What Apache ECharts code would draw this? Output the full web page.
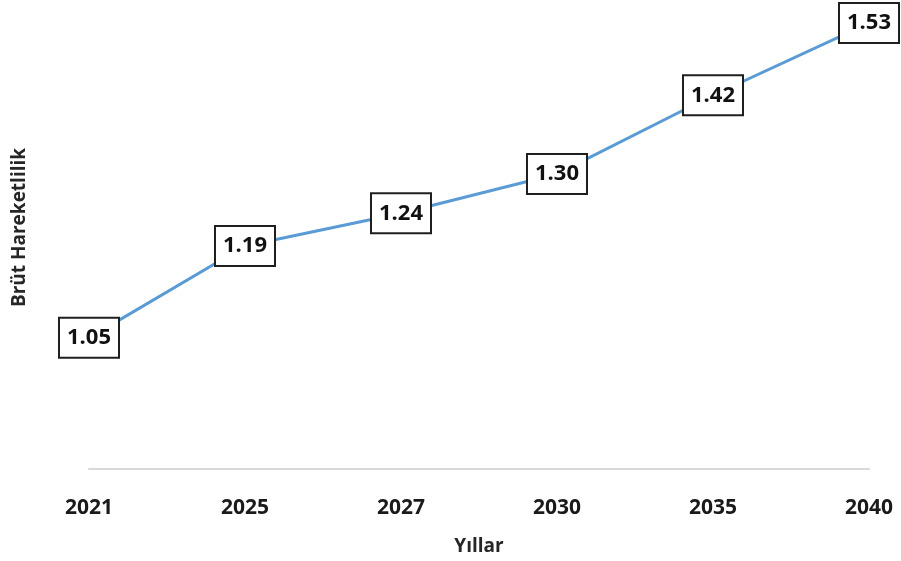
<!DOCTYPE html>
<html>
<head>
<meta charset="utf-8">
<script src="https://cdn.jsdelivr.net/npm/echarts@6/dist/echarts.min.js"></script>
<style>
 html, body { margin: 0; padding: 0; background: #fff; }
 #chartMain { width: 901px; height: 561px; }
</style>
</head>
<body>
<div id="chartMain"></div>
<script>
var years = ['2021', '2025', '2027', '2030', '2035', '2040'];
var mobility = [1.05, 1.19, 1.24, 1.30, 1.42, 1.53];

var myChart = echarts.init(document.getElementById('chartMain'));
var font = '"Open Sans", sans-serif';

var option = {
	animation: false,
	grid: { left: 89, right: 32, top: 10, bottom: 86 },
	xAxis: {
		type: 'category',
		data: years,
		boundaryGap: false,
		name: 'Yıllar',
		nameLocation: 'middle',
		nameGap: 68,
		nameTextStyle: { fontFamily: font, fontWeight: 'bold', fontSize: 19, color: '#262626' },
		axisLine: { lineStyle: { color: '#d9d9d9', width: 2 } },
		axisTick: { show: false },
		axisLabel: { margin: 29, fontFamily: font, fontWeight: 'bold', fontSize: 21, color: '#1a1a1a' }
	},
	yAxis: {
		type: 'value',
		min: 0.85,
		max: 1.55,
		name: 'Brüt Hareketlilik',
		nameLocation: 'middle',
		nameGap: 60,
		nameRotate: 90,
		nameTextStyle: { fontFamily: font, fontWeight: 'bold', fontSize: 19, color: '#262626', padding: [0, 0, 0, 24] },
		axisLine: { show: false },
		axisTick: { show: false },
		axisLabel: { show: false },
		splitLine: { show: false }
	},
	series: [{
		type: 'line',
		data: mobility,
		symbol: 'circle',
		symbolSize: 4,
		showSymbol: true,
		itemStyle: { color: '#5b9bd5' },
		lineStyle: { color: '#5b9bd5', width: 3 },
		label: {
			show: true,
			position: 'inside',
			formatter: function(p) { return p.value.toFixed(2); },
			fontFamily: font,
			fontWeight: 'bold',
			fontSize: 22,
			lineHeight: 24,
			color: '#111',
			backgroundColor: '#fff',
			borderColor: '#1f1f1f',
			borderWidth: 2,
			padding: [7, 7]
		}
	}]
};

myChart.setOption(option);
</script>
</body>
</html>
